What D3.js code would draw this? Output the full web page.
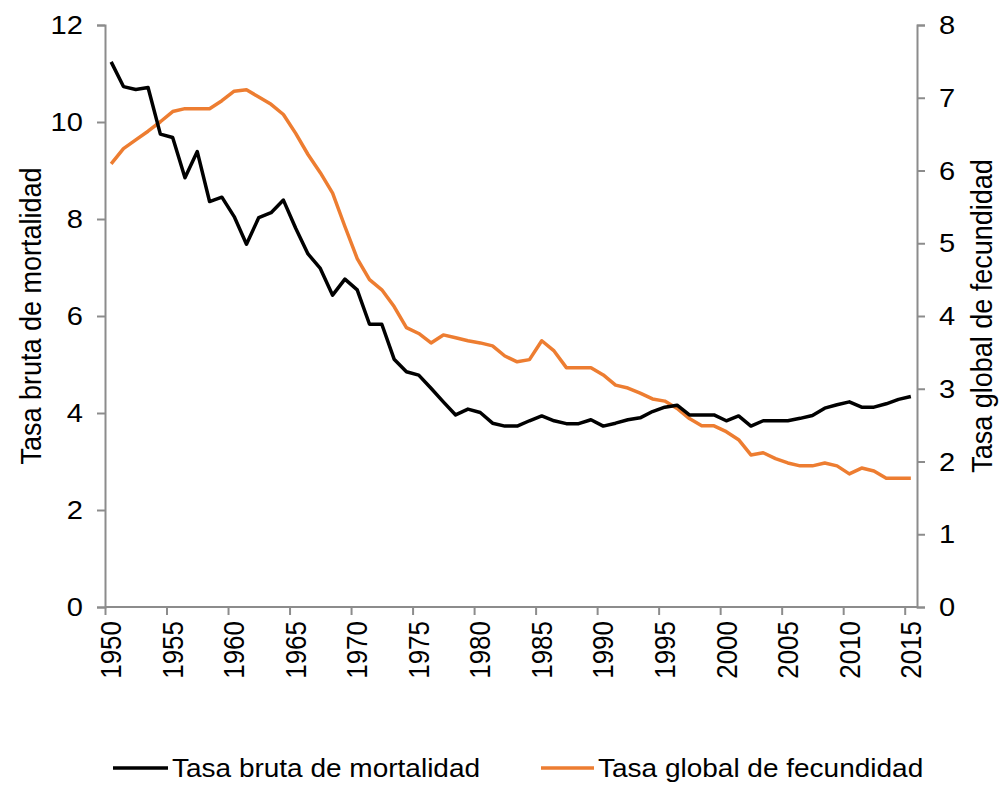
<!DOCTYPE html>
<html>
<head>
<meta charset="utf-8">
<script src="https://cdn.jsdelivr.net/npm/d3@7"></script>
<style>
  html, body { margin: 0; padding: 0; background: #fff; }
  svg { display: block; font-family: "Liberation Sans", Arial, sans-serif; }
</style>
</head>
<body>
<svg id="chart" width="1000" height="785"></svg>
<script>
const years = d3.range(1950, 2016);
const mortalidad = [11.24, 10.73, 10.67, 10.71, 9.75, 9.68, 8.85, 9.39, 8.36, 8.45,
  8.05, 7.48, 8.03, 8.13, 8.39, 7.81, 7.28, 6.98, 6.43, 6.76,
  6.54, 5.83, 5.83, 5.11, 4.85, 4.78, 4.51, 4.23, 3.96, 4.08,
  4.01, 3.79, 3.73, 3.73, 3.84, 3.94, 3.84, 3.78, 3.78, 3.86,
  3.73, 3.79, 3.86, 3.90, 4.03, 4.12, 4.16, 3.96, 3.96, 3.96,
  3.84, 3.94, 3.73, 3.84, 3.84, 3.84, 3.89, 3.95, 4.10, 4.17,
  4.23, 4.12, 4.12, 4.19, 4.28, 4.34];
const fecundidad = [6.09, 6.30, 6.42, 6.54, 6.67, 6.81, 6.85, 6.85, 6.85, 6.96,
  7.09, 7.11, 7.01, 6.91, 6.77, 6.51, 6.22, 5.97, 5.69, 5.23,
  4.79, 4.50, 4.36, 4.13, 3.84, 3.76, 3.63, 3.74, 3.70, 3.66,
  3.63, 3.59, 3.45, 3.37, 3.40, 3.66, 3.52, 3.29, 3.29, 3.29,
  3.19, 3.05, 3.01, 2.94, 2.86, 2.83, 2.73, 2.59, 2.49, 2.49,
  2.41, 2.30, 2.09, 2.12, 2.04, 1.98, 1.94, 1.94, 1.98, 1.94,
  1.83, 1.91, 1.87, 1.77, 1.77, 1.77];
const leftTicks = [0, 2, 4, 6, 8, 10, 12];
const rightTicks = [0, 1, 2, 3, 4, 5, 6, 7, 8];
const xTickYears = [1950, 1955, 1960, 1965, 1970, 1975, 1980, 1985, 1990, 1995, 2000, 2005, 2010, 2015];
const seriesNames = ["Tasa bruta de mortalidad", "Tasa global de fecundidad"];
const seriesColors = ["#000000", "#ED7D31"];
const leftTitle = "Tasa bruta de mortalidad";
const rightTitle = "Tasa global de fecundidad";

const svg = d3.select("#chart");
const L = 105, R = 917, T = 25, B = 607;
const axisColor = "#8c8c8c";
const fsTick = 26, fsTitle = 27, fsLegend = 25;
const sx = 1.12; // horizontal stretch of the original's text

const x = d3.scaleBand().domain(years).range([L, R]).padding(0);
const yL = d3.scaleLinear().domain([0, 12]).range([B, T]);
const yR = d3.scaleLinear().domain([0, 8]).range([B, T]);

// axes (lines + tick marks)
const gL = svg.append("g").attr("transform", `translate(${L},0)`)
  .call(d3.axisLeft(yL).tickValues(leftTicks).tickSize(8).tickFormat(""));
const gR = svg.append("g").attr("transform", `translate(${R},0)`)
  .call(d3.axisRight(yR).tickValues(rightTicks).tickSize(8).tickFormat(""));
const xTickScale = d3.scaleLinear().domain([1950, 2016]).range([L, R]);
const gB = svg.append("g").attr("transform", `translate(0,${B})`)
  .call(d3.axisBottom(xTickScale).tickValues(xTickYears).tickSize(8).tickFormat(""));
[gL, gR, gB].forEach(g => {
  g.selectAll(".tick text").remove();
  g.select(".domain").attr("stroke", axisColor).attr("stroke-width", 2);
  g.selectAll(".tick line").attr("stroke", axisColor).attr("stroke-width", 2);
});
gB.select(".domain").attr("d", `M${L},0H${R}`);

// tick labels
svg.append("g").selectAll("text").data(leftTicks).join("text")
  .attr("transform", d => `translate(83,${yL(d)}) scale(${sx},1)`)
  .attr("text-anchor", "end").attr("dy", "0.35em").attr("font-size", fsTick)
  .text(d => d);
svg.append("g").selectAll("text").data(rightTicks).join("text")
  .attr("transform", d => `translate(939,${yR(d)}) scale(${sx},1)`)
  .attr("text-anchor", "start").attr("dy", "0.35em").attr("font-size", fsTick)
  .text(d => d);
svg.append("g").selectAll("text").data(xTickYears).join("text")
  .attr("transform", d => `translate(${x(d) + x.bandwidth() / 2},${B + 14}) scale(${sx},1) rotate(-90)`)
  .attr("text-anchor", "end").attr("dy", "0.35em").attr("font-size", fsTick)
  .text(d => d);

// lines
const lineL = d3.line().x((d, i) => x(years[i]) + x.bandwidth() / 2).y(d => yL(d));
const lineR = d3.line().x((d, i) => x(years[i]) + x.bandwidth() / 2).y(d => yR(d));
svg.append("path").datum(fecundidad).attr("d", lineR)
  .attr("fill", "none").attr("stroke", seriesColors[1]).attr("stroke-width", 3.5)
  .attr("stroke-linejoin", "round");
svg.append("path").datum(mortalidad).attr("d", lineL)
  .attr("fill", "none").attr("stroke", seriesColors[0]).attr("stroke-width", 3.5)
  .attr("stroke-linejoin", "round");

// axis titles
svg.append("text").attr("transform", `translate(41,${(T + B) / 2}) scale(${sx},1) rotate(-90)`)
  .attr("text-anchor", "middle").attr("font-size", fsTitle).text(leftTitle);
svg.append("text").attr("transform", `translate(992,${(T + B) / 2}) scale(${sx},1) rotate(-90)`)
  .attr("text-anchor", "middle").attr("font-size", fsTitle).text(rightTitle);

// legend
const legendItems = [
  {name: seriesNames[0], color: seriesColors[0], x1: 113, x2: 168, tx: 172},
  {name: seriesNames[1], color: seriesColors[1], x1: 541, x2: 594, tx: 598}
];
const lg = svg.append("g");
legendItems.forEach(it => {
  lg.append("line").attr("x1", it.x1).attr("x2", it.x2).attr("y1", 768).attr("y2", 768)
    .attr("stroke", it.color).attr("stroke-width", 3.5);
  lg.append("text").attr("transform", `translate(${it.tx},777) scale(${sx},1)`)
    .attr("font-size", fsLegend).text(it.name);
});
</script>
</body>
</html>
